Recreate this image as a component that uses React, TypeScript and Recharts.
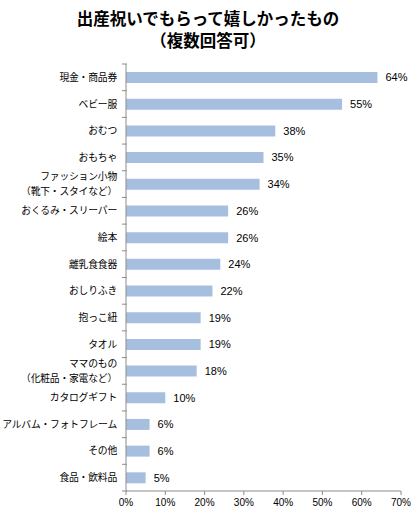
import React from "react";
import { Bar, BarChart, LabelList, XAxis, YAxis } from "recharts";

const categories = [
  "現金・商品券",
  "ベビー服",
  "おむつ",
  "おもちゃ",
  "ファッション小物\n（靴下・スタイなど）",
  "おくるみ・スリーパー",
  "絵本",
  "離乳食食器",
  "おしりふき",
  "抱っこ紐",
  "タオル",
  "ママのもの\n（化粧品・家電など）",
  "カタログギフト",
  "アルバム・フォトフレーム",
  "その他",
  "食品・飲料品",
];
const values = [64, 55, 38, 35, 34, 26, 26, 24, 22, 19, 19, 18, 10, 6, 6, 5];
const xTicks = [0, 10, 20, 30, 40, 50, 60, 70];

const data = categories.map((name, i) => ({ name, value: values[i] }));

const jpFont = '"Noto Sans CJK JP", sans-serif';
const numFont = '"Liberation Sans", Arial, sans-serif';
const axisColor = "#8c8c8c";

const CHART_W = 416;
const CHART_H = 513;
const TOP = 64;
const BOTTOM_AXIS_Y = 491;
const BAND = (BOTTOM_AXIS_Y - TOP) / categories.length;

function CategoryTick(props: any) {
  const { x, y, payload, index } = props;
  const lines = String(payload.value).split("\n");
  const isLast = index === categories.length - 1;
  return (
    <g>
      <line x1={x + 4} x2={x + 9} y1={y - BAND / 2} y2={y - BAND / 2} stroke={axisColor} />
      {isLast ? (
        <line x1={x + 4} x2={x + 9} y1={y + BAND / 2} y2={y + BAND / 2} stroke={axisColor} />
      ) : null}
      <text
        x={x - 1}
        y={y}
        textAnchor="end"
        fontFamily={jpFont}
        fontSize={9.8}
        letterSpacing={-0.2}
        fill="#000"
      >
        {lines.map((line, i) => (
          <tspan
            key={i}
            x={x - 1}
            dy={i === 0 ? (lines.length === 1 ? 3.5 : -4) : 15}
          >
            {line}
          </tspan>
        ))}
      </text>
    </g>
  );
}

export default function App() {
  return (
    <div style={{ position: "absolute", left: 0, top: 0, width: CHART_W, height: CHART_H, background: "#fff" }}>
      <div
        style={{
          position: "absolute",
          left: 0,
          top: 7,
          width: CHART_W,
          textAlign: "center",
          fontFamily: jpFont,
          fontWeight: 700,
          fontSize: 16.5,
          lineHeight: "22px",
          color: "#000",
        }}
      >
        <div>出産祝いでもらって嬉しかったもの</div>
        <div>（複数回答可）</div>
      </div>
      <BarChart
        width={CHART_W}
        height={CHART_H}
        data={data}
        layout="vertical"
        margin={{ top: TOP, right: 15, left: 8, bottom: 2 }}
        barSize={11}
      >
        <XAxis
          type="number"
          domain={[0, 70]}
          ticks={xTicks}
          tickFormatter={(v) => `${v}%`}
          axisLine={{ stroke: axisColor }}
          tickLine={{ stroke: axisColor }}
          tickSize={4}
          tickMargin={4}
          height={20}
          tick={{ fontFamily: numFont, fontSize: 10, fill: "#000" }}
          interval={0}
        />
        <YAxis
          type="category"
          dataKey="name"
          width={118}
          axisLine={{ stroke: axisColor }}
          tickLine={false}
          tick={<CategoryTick />}
          interval={0}
        />
        <Bar dataKey="value" fill="#A7BFDE" isAnimationActive={false}>
          <LabelList
            dataKey="value"
            position="right"
            offset={8}
            formatter={(v: any) => `${v}%`}
            style={{ fontFamily: numFont, fontSize: 11, fill: "#000" }}
          />
        </Bar>
      </BarChart>
    </div>
  );
}
